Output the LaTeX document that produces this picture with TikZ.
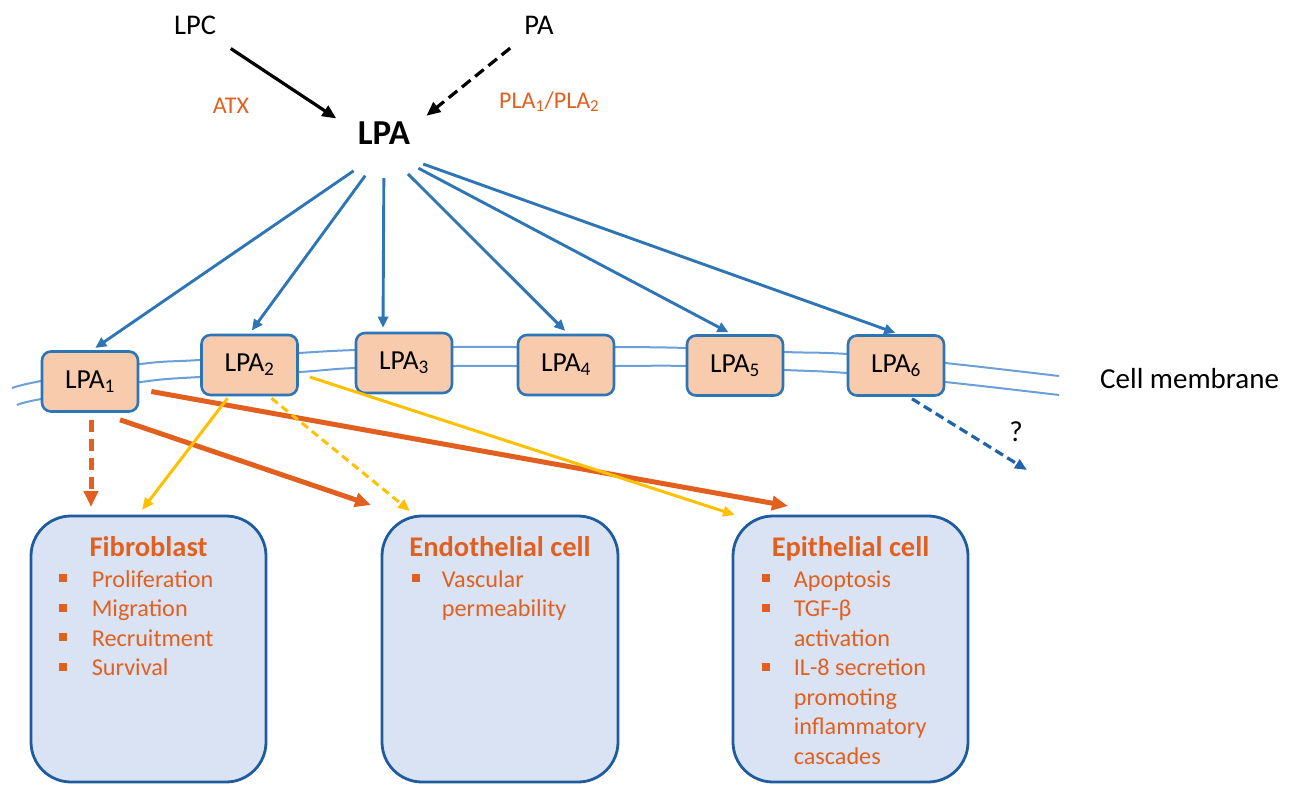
\documentclass[tikz,border=0pt]{standalone}
\usepackage{fontspec}
\setmainfont{Carlito}
\usetikzlibrary{arrows.meta,calc,shapes.geometric}
\definecolor{ablue}{HTML}{2E75B6}
\definecolor{memb}{HTML}{6A9FD8}
\definecolor{peach}{HTML}{F8CBAD}
\definecolor{cellfill}{HTML}{DAE3F3}
\definecolor{celldraw}{HTML}{1F5C9E}
\definecolor{org}{HTML}{E2601F}
\definecolor{yel}{HTML}{FFC000}
\definecolor{dblue}{HTML}{1F64A8}
\newcommand{\bsq}{\textcolor{org}{\rule[5pt]{8pt}{8pt}}}
\begin{document}
\begin{tikzpicture}[x=1pt,y=-1pt,
  txt/.style={inner sep=2pt, font=\fontsize{28.5}{34}\selectfont},
  otxt/.style={inner sep=2pt, text=org, font=\fontsize{24}{29}\selectfont},
  lpabox/.style={draw=ablue, line width=2.6pt, fill=peach, rounded corners=9pt,
     minimum width=96pt, minimum height=60pt, inner sep=0pt, font=\fontsize{27.5}{32}\selectfont},
  cellbox/.style={draw=celldraw, line width=2.8pt, fill=cellfill, rounded corners=40pt,
     minimum width=235pt, minimum height=266pt, inner sep=0pt},
  celltitle/.style={inner sep=0pt, text=org, font=\bfseries\fontsize{28.5}{34}\selectfont},
  celllist/.style={inner sep=0pt, text=org, font=\fontsize{24.2}{29.5}\selectfont},
  membline/.style={draw=memb, line width=2pt},
  karr/.style={draw=black, line width=3.2pt, -{Triangle[length=14pt,width=12pt]}},
  blarr/.style={draw=ablue, line width=2.9pt, -{Triangle[length=11pt,width=10pt]}, shorten >=4pt},
  oarr/.style={draw=org, line width=5pt, -{Triangle[length=16pt,width=14pt]}},
  yarr/.style={draw=yel, line width=3pt, -{Triangle[length=12pt,width=10pt]}},
  bdarr/.style={draw=dblue, line width=3.2pt, dash pattern=on 9pt off 5pt, -{Triangle[length=12pt,width=10pt]}}
]
\useasboundingbox (0,0) rectangle (1294,785);

% membrane
\draw[membline] plot[smooth, tension=0.6] coordinates {(12,388) (41,381) (141,364) (199,360) (299,353) (355,350) (455,347) (518,347) (614,347) (687,348) (785,352) (847,354) (945,363) (1059,376)};
\draw[membline] plot[smooth, tension=0.6] coordinates {(17,405) (41,399) (141,382) (199,377) (299,372) (355,368) (455,366) (518,366) (614,366) (687,366) (785,370) (847,373) (945,382) (1059,395)};

% top texts
\node[txt, anchor=base] (lpc) at (195,34) {LPC};
\node[txt, anchor=base] (pa) at (539,34) {PA};
\node[otxt, anchor=base] (atx) at (231,113) {ATX};
\node[otxt, anchor=base west] (pla) at (497,108) {PLA\textsubscript{1}/PLA\textsubscript{2}};
\node[inner sep=2pt, font=\bfseries\fontsize{35}{40}\selectfont, anchor=base] (lpa) at (384,144) {LPA};
\node[ellipse, minimum width=90pt, minimum height=56pt, inner sep=0pt] (lpahub) at (384,150) {};

\draw[karr, shorten <=22pt, shorten >=20pt] (lpc) -- (lpahub);
\draw[karr, dash pattern=on 11pt off 6pt, shorten <=19pt, shorten >=19pt] (pa) -- (lpahub);

% receptors
\node[lpabox] (lpa1) at (90,381.5) {LPA\textsubscript{1}};
\node[lpabox] (lpa2) at (249.5,365) {LPA\textsubscript{2}};
\node[lpabox] (lpa3) at (404,363) {LPA\textsubscript{3}};
\node[lpabox] (lpa4) at (566,365) {LPA\textsubscript{4}};
\node[lpabox] (lpa5) at (735,365.5) {LPA\textsubscript{5}};
\node[lpabox] (lpa6) at (896,365.5) {LPA\textsubscript{6}};

\draw[blarr] (lpahub) -- ([xshift=2pt]lpa1.north);
\draw[blarr] (lpahub) -- (lpa2.north);
\draw[blarr] (lpahub) -- ([xshift=-21pt]lpa3.north);
\draw[blarr] (lpahub) -- ([xshift=2pt]lpa4.north);
\draw[blarr] (lpahub) -- ([xshift=-3pt]lpa5.north);
\draw[blarr] (lpahub) -- ([xshift=3pt]lpa6.north);

\node[txt, anchor=base west, font=\fontsize{29}{34}\selectfont] (cm) at (1098,388) {Cell membrane};

% cell boxes
\node[cellbox] (fib) at (148.5,649) {};
\node[cellbox, minimum width=236pt] (endo) at (500,649) {};
\node[cellbox] (epi) at (850.5,649) {};

\node[celltitle, anchor=base] (fibt) at ($(fib.north)+(0,42)$) {Fibroblast};
\node[celltitle, anchor=base] (endot) at ($(endo.north)+(0,42)$) {Endothelial cell};
\node[celltitle, anchor=base] (epit) at ($(epi.north)+(0,42)$) {Epithelial cell};

\node[celllist, anchor=north west] (fibl) at ($(fib.north west)+(29,52)$) {%
\begin{tabular}{@{}l@{\hspace{25pt}}l@{}}
\bsq & Proliferation\\
\bsq & Migration\\
\bsq & Recruitment\\
\bsq & Survival
\end{tabular}};
\node[celllist, anchor=north west] (endol) at ($(endo.north west)+(31,52)$) {%
\begin{tabular}{@{}l@{\hspace{22pt}}l@{}}
\bsq & Vascular\\
 & permeability
\end{tabular}};
\node[celllist, anchor=north west] (epil) at ($(epi.north west)+(30,52)$) {%
\begin{tabular}{@{}l@{\hspace{24pt}}l@{}}
\bsq & Apoptosis\\
\bsq & TGF-β\\
 & activation\\
\bsq & IL-8 secretion\\
 & promoting\\
 & inflammatory\\
 & cascades
\end{tabular}};

% arrow end points
\coordinate (fibin1) at (91,507);
\coordinate (fibin2) at (142,510);
\coordinate (endoin1) at (371,505);
\coordinate (endoin2) at (410,511);
\coordinate (epiin1) at (788,506);
\coordinate (epiin2) at (735,515);
\coordinate (unk) at (1027,470);

% orange arrows (LPA1)
\draw[oarr, dash pattern=on 12pt off 7pt] ([shift={(1,7)}]lpa1.south) -- (fibin1);
\draw[oarr] ([shift={(30,7)}]lpa1.south) -- (endoin1);
\draw[oarr] ([shift={(12,10)}]lpa1.east) -- (epiin1);

% yellow arrows (LPA2)
\draw[yarr] ([shift={(-22,2)}]lpa2.south) -- (fibin2);
\draw[yarr, dash pattern=on 8pt off 5pt] ([shift={(22,2)}]lpa2.south) -- (endoin2);
\draw[yarr] ([shift={(11,12)}]lpa2.east) -- (epiin2);

% LPA6 unknown
\draw[bdarr] ([shift={(16,2)}]lpa6.south) -- (unk);
\node[txt, anchor=base, font=\fontsize{29}{34}\selectfont] (q) at (1016,441) {?};

\end{tikzpicture}
\end{document}
